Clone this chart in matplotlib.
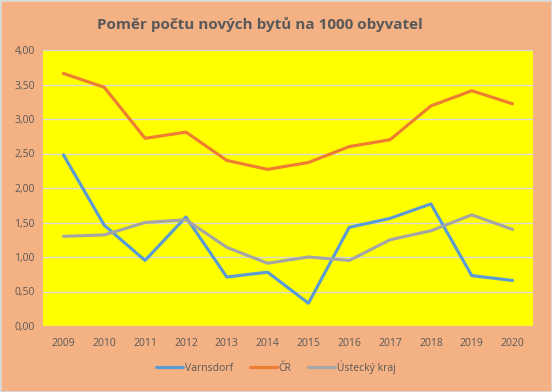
import numpy as np
import matplotlib.pyplot as plt
from matplotlib.patches import Rectangle

# data
years = ['2009', '2010', '2011', '2012', '2013', '2014', '2015', '2016', '2017', '2018', '2019', '2020']
varnsdorf = [2.48, 1.46, 0.95, 1.58, 0.71, 0.78, 0.33, 1.43, 1.56, 1.77, 0.73, 0.66]
cr = [3.66, 3.46, 2.72, 2.81, 2.40, 2.27, 2.37, 2.60, 2.70, 3.19, 3.41, 3.22]
ustecky = [1.30, 1.32, 1.50, 1.54, 1.14, 0.91, 1.00, 0.95, 1.25, 1.38, 1.61, 1.40]
series_names = ['Varnsdorf', 'ČR', 'Ústecký kraj']
yticks = [0, 0.5, 1, 1.5, 2, 2.5, 3, 3.5, 4]

plt.rcParams['font.family'] = ['Open Sans', 'DejaVu Sans']
txt = '#595959'

fig = plt.figure(figsize=(5.52, 3.92), dpi=100)
fig.patch.set_facecolor('#F4B183')
fig.patches.append(Rectangle((0, 0), 1, 1, transform=fig.transFigure,
                             fill=False, edgecolor='#D9D9D9', linewidth=2))

ax = fig.add_axes([43/552, 66/392, 490/552, 276/392])
ax.set_facecolor('#FFFF00')
x = np.arange(len(years))
ax.plot(x, varnsdorf, color='#5B9BD5', lw=2.25, label=series_names[0], solid_capstyle='round')
ax.plot(x, cr, color='#ED7D31', lw=2.25, label=series_names[1], solid_capstyle='round')
ax.plot(x, ustecky, color='#A5A5A5', lw=2.25, label=series_names[2], solid_capstyle='round')

ax.set_xlim(-0.5, len(years) - 0.5)
ax.set_ylim(0, 4)
ax.set_yticks(yticks)
ax.set_yticklabels([f'{v:.2f}'.replace('.', ',') for v in yticks])
ax.set_xticks(x)
ax.set_xticklabels(years)
ax.tick_params(length=0, labelsize=7.5, colors=txt, pad=9)
ax.tick_params(axis='y', pad=6)
ax.grid(axis='y', color='#D9D9D9', lw=1)
ax.set_axisbelow(True)
for s in ax.spines.values():
    s.set_visible(False)

fig.text(0.471, 0.938, 'Poměr počtu nových bytů na 1000 obyvatel', ha='center', va='center',
         fontsize=11, fontweight='bold', color=txt)
fig.legend(loc='center', bbox_to_anchor=(0.5, 25/392), ncol=3, frameon=False,
           fontsize=7.5, labelcolor=txt, handlelength=2.6, handletextpad=0.2, columnspacing=1.6)

fig.savefig('out.png', dpi=100, facecolor=fig.get_facecolor())
